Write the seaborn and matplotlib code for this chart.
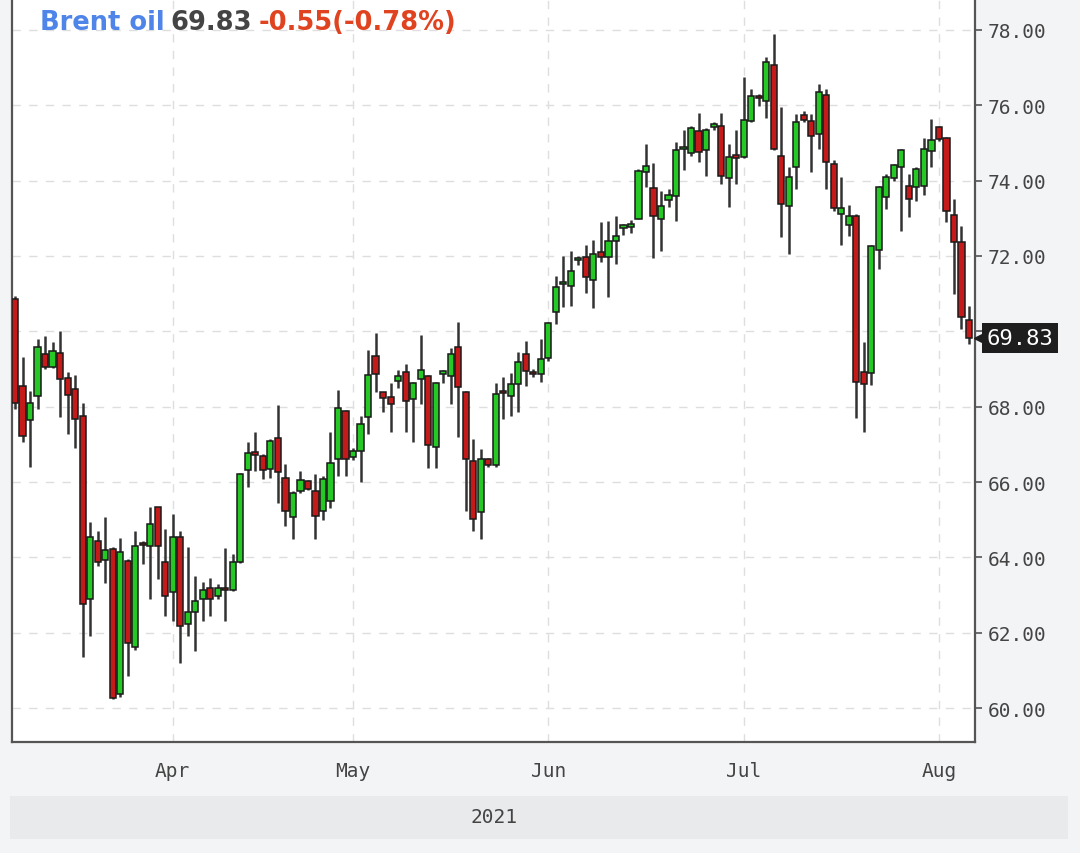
import numpy as np
import pandas as pd
import matplotlib
matplotlib.use("Agg")
import matplotlib.pyplot as plt
import matplotlib.transforms as mtransforms
from matplotlib.patches import Rectangle
import seaborn as sns

# trading sessions: Sun-Fri bars, no Good Friday / Easter Sunday
dates = pd.date_range("2021-03-08", "2021-08-05")
dates = dates[(dates.dayofweek != 5) & ~dates.isin(pd.to_datetime(["2021-04-02", "2021-04-04"]))]

opens = [70.85, 68.56, 67.65, 68.29, 69.40, 69.04, 69.43, 68.75, 68.47, 67.74,
         62.89, 64.44, 63.94, 64.22, 60.37, 63.91, 61.61, 64.38, 64.31, 65.33,
         63.87, 63.07, 64.53, 62.23, 62.54, 62.90, 63.18, 62.98, 63.17, 63.13,
         63.89, 66.33, 66.80, 66.70, 66.35, 67.16, 66.12, 65.06, 65.77, 66.04,
         65.77, 65.24, 65.50, 66.61, 67.89, 66.66, 66.83, 67.72, 69.35, 68.38,
         68.25, 68.69, 68.91, 68.20, 68.74, 68.82, 66.92, 68.88, 68.82, 69.58,
         68.40, 66.57, 65.20, 66.61, 66.45, 68.42, 68.29, 68.60, 69.40, 68.90,
         68.87, 69.28, 70.50, 71.25, 71.21, 71.88, 71.96, 71.35, 72.10, 71.96,
         72.41, 72.75, 72.78, 72.98, 74.24, 73.80, 72.98, 73.48, 73.60, 74.83,
         74.73, 75.31, 74.80, 75.43, 75.46, 74.07, 74.63, 74.62, 75.59, 76.22,
         76.11, 77.08, 74.66, 73.33, 74.35, 75.75, 75.59, 75.24, 76.26, 74.44,
         73.12, 72.82, 73.05, 68.93, 68.89, 72.17, 73.56, 74.06, 74.35, 73.87,
         73.82, 73.85, 74.79, 75.42, 75.12, 73.09, 72.36, 70.30]
highs = [70.95, 69.31, 68.42, 69.80, 69.87, 69.72, 70.02, 68.91, 68.84, 68.11,
         64.93, 64.71, 65.06, 64.27, 64.52, 63.95, 64.71, 64.43, 65.33, 65.35,
         64.75, 65.15, 64.71, 64.27, 63.51, 63.35, 63.44, 63.30, 64.24, 64.09,
         66.25, 67.05, 67.32, 66.75, 67.15, 68.04, 66.48, 65.75, 66.30, 66.06,
         66.21, 66.15, 67.32, 68.43, 67.92, 66.90, 67.76, 69.51, 69.96, 68.40,
         68.63, 68.98, 69.13, 68.65, 69.89, 68.85, 68.66, 68.98, 69.55, 70.24,
         68.42, 67.14, 66.88, 66.65, 68.63, 68.78, 68.89, 69.44, 69.73, 69.00,
         69.80, 70.25, 71.48, 72.01, 72.14, 72.00, 72.29, 72.43, 72.90, 72.94,
         73.07, 72.85, 72.95, 74.30, 74.97, 74.47, 73.73, 73.78, 75.02, 75.33,
         75.45, 75.79, 75.40, 75.55, 75.79, 74.96, 75.33, 76.74, 76.43, 76.30,
         77.29, 77.89, 75.96, 74.37, 75.77, 75.85, 75.78, 76.56, 76.43, 74.55,
         74.10, 73.35, 73.11, 69.71, 72.30, 73.87, 74.18, 74.45, 74.85, 74.18,
         74.35, 75.12, 75.64, 75.45, 75.15, 73.51, 72.80, 70.68]
lows = [67.95, 67.05, 66.39, 67.94, 69.00, 69.02, 67.72, 67.27, 66.89, 61.35,
        61.92, 63.78, 63.32, 60.24, 60.30, 60.86, 61.55, 63.82, 62.90, 63.42,
        62.45, 62.32, 61.21, 61.92, 61.52, 62.32, 62.45, 62.90, 62.32, 63.10,
        63.85, 65.88, 66.30, 66.08, 66.12, 65.44, 64.84, 64.49, 65.72, 65.78,
        64.49, 65.00, 65.30, 66.17, 66.17, 66.58, 66.01, 67.27, 68.38, 67.85,
        67.34, 68.50, 67.32, 67.05, 68.07, 66.36, 66.36, 68.63, 68.07, 67.19,
        65.24, 64.71, 64.49, 66.40, 66.40, 67.67, 67.76, 67.85, 68.56, 68.80,
        68.65, 69.20, 70.20, 70.64, 70.68, 71.75, 71.03, 70.61, 71.83, 70.90,
        71.79, 72.55, 72.60, 72.98, 73.82, 71.94, 72.14, 73.30, 72.94, 74.27,
        74.65, 74.49, 74.13, 75.35, 73.91, 73.31, 73.91, 74.60, 75.55, 75.97,
        75.66, 74.80, 72.50, 72.05, 73.78, 75.55, 74.22, 74.84, 73.78, 73.20,
        72.30, 72.52, 67.69, 67.34, 68.57, 71.65, 73.25, 74.00, 72.67, 73.03,
        73.47, 73.62, 74.35, 75.05, 72.90, 70.99, 70.06, 69.66]
closes = [68.10, 67.23, 68.10, 69.58, 69.04, 69.49, 68.73, 68.31, 67.67, 62.76,
          64.53, 63.87, 64.20, 60.28, 64.13, 61.74, 64.31, 64.32, 64.88, 64.31,
          62.98, 64.53, 62.19, 62.54, 62.85, 63.14, 62.90, 63.18, 63.13, 63.87,
          66.21, 66.77, 66.72, 66.33, 67.10, 66.27, 65.24, 65.72, 66.05, 65.81,
          65.09, 66.08, 66.50, 67.96, 66.61, 66.83, 67.54, 68.84, 68.87, 68.22,
          68.07, 68.82, 68.16, 68.63, 68.98, 66.98, 68.63, 68.93, 69.40, 68.51,
          66.61, 65.02, 66.61, 66.45, 68.34, 68.36, 68.60, 69.18, 68.96, 68.86,
          69.27, 70.22, 71.17, 71.29, 71.61, 71.93, 71.43, 72.05, 71.96, 72.41,
          72.54, 72.79, 72.83, 74.26, 74.38, 73.05, 73.33, 73.63, 74.81, 74.87,
          75.40, 74.75, 75.35, 75.47, 74.13, 74.62, 74.61, 75.61, 76.25, 76.18,
          77.14, 74.84, 73.38, 74.09, 75.55, 75.61, 75.19, 76.34, 74.50, 73.27,
          73.27, 73.05, 68.66, 68.60, 72.27, 73.82, 74.09, 74.42, 74.82, 73.50,
          74.31, 74.84, 75.09, 75.11, 73.20, 72.38, 70.38, 69.83]

assert len(dates) == len(opens) == len(highs) == len(lows) == len(closes)

df = pd.DataFrame({"date": dates, "open": opens, "high": highs,
                   "low": lows, "close": closes})
df["x"] = np.arange(len(df))
df["up"] = df["close"] >= df["open"]

sns.set_theme(style="white")
plt.rcParams["font.family"] = ["DejaVu Sans"]

fig = plt.figure(figsize=(10.8, 8.54), dpi=100)
fig.patch.set_facecolor("#f3f4f6")
ax = fig.add_axes([12 / 1080, 1 - 743 / 854, 963 / 1080, 743 / 854])
ax.set_facecolor("white")

green = "#25c825"
red = "#c41a1a"
edge = "#1a1a1a"

# wicks
ax.vlines(df["x"], df["low"], df["high"], color="#333333", linewidth=1.8, zorder=2)
# bodies
bottom = np.minimum(df["open"], df["close"])
height = np.maximum((df["close"] - df["open"]).abs(), 0.06)
ax.bar(df["x"], height, bottom=bottom, width=0.82,
       color=np.where(df["up"], green, red), edgecolor=edge, linewidth=1.1, zorder=3)

# axes ranges
ax.set_xlim(-0.4, 127.8)
ax.set_ylim(59.10, 78.82)

last = df["close"].iloc[-1]

# month ticks at first session of each month
month_first = df.groupby(df["date"].dt.to_period("M"))["x"].min().iloc[1:]
ax.set_xticks(month_first.values)
ax.set_xticklabels([p.strftime("%b") for p in month_first.index])
yticks = np.arange(60, 79, 2)
ax.set_yticks(yticks)
# the last-price tag sits over the nearest label
ax.set_yticklabels(["" if abs(v - last) < 0.5 else f"{v:.2f}" for v in yticks])

ax.yaxis.tick_right()
ax.tick_params(axis="y", direction="out", length=5, width=1.2, color="#555555",
               labelsize=14, labelcolor="#444444", pad=4)
ax.tick_params(axis="x", direction="out", length=6, width=1.2, color="#555555",
               labelsize=14, labelcolor="#444444", pad=8)
for lab in ax.get_xticklabels() + ax.get_yticklabels():
    lab.set_family("DejaVu Sans Mono")

ax.grid(True, color="#dedede", linestyle=(0, (6, 6)), linewidth=1.0, zorder=0)
ax.set_axisbelow(True)

for side in ["left", "bottom", "right"]:
    ax.spines[side].set_visible(True)
    ax.spines[side].set_color("#555555")
    ax.spines[side].set_linewidth(1.6)
ax.spines["top"].set_visible(False)

# last price tag
trans = mtransforms.blended_transform_factory(ax.transAxes, ax.transData)
ax.plot([1.006], [last], marker="<", markersize=10, color="#1e1e1e",
        transform=trans, clip_on=False, zorder=5)
ax.text(1.012, last, f"{last:.2f}", transform=trans, ha="left", va="center",
        fontsize=16, color="white", family="DejaVu Sans Mono",
        bbox=dict(boxstyle="square,pad=0.22", facecolor="#1e1e1e", edgecolor="none"),
        zorder=6)

# title row
prev = df["close"].iloc[-2]
chg = last - prev
pct = chg / prev * 100
parts = [("Brent oil", "#4f84e8"), (f"{last:.2f}", "#444444"),
         (f"{chg:.2f}({pct:.2f}%)", "#e0431f")]
fig.canvas.draw()
renderer = fig.canvas.get_renderer()
xpix = 40
for txt, col in parts:
    t = fig.text(xpix / 1080, 1 - 23 / 854, txt, color=col, fontsize=18.5,
                 fontweight="bold", ha="left", va="center")
    bb = t.get_window_extent(renderer=renderer)
    xpix = bb.x1 + 6

# year band
fig.patches.append(Rectangle((10 / 1080, 14 / 854), 1058 / 1080, 43 / 854,
                             transform=fig.transFigure, facecolor="#e9eaec",
                             edgecolor="none", zorder=0))
fig.text((12 + 975) / 2 / 1080, 1 - 818 / 854, "2021", ha="center", va="center",
         fontsize=14, color="#444444", family="DejaVu Sans Mono")

fig.savefig("out.png", dpi=100, facecolor=fig.get_facecolor())
